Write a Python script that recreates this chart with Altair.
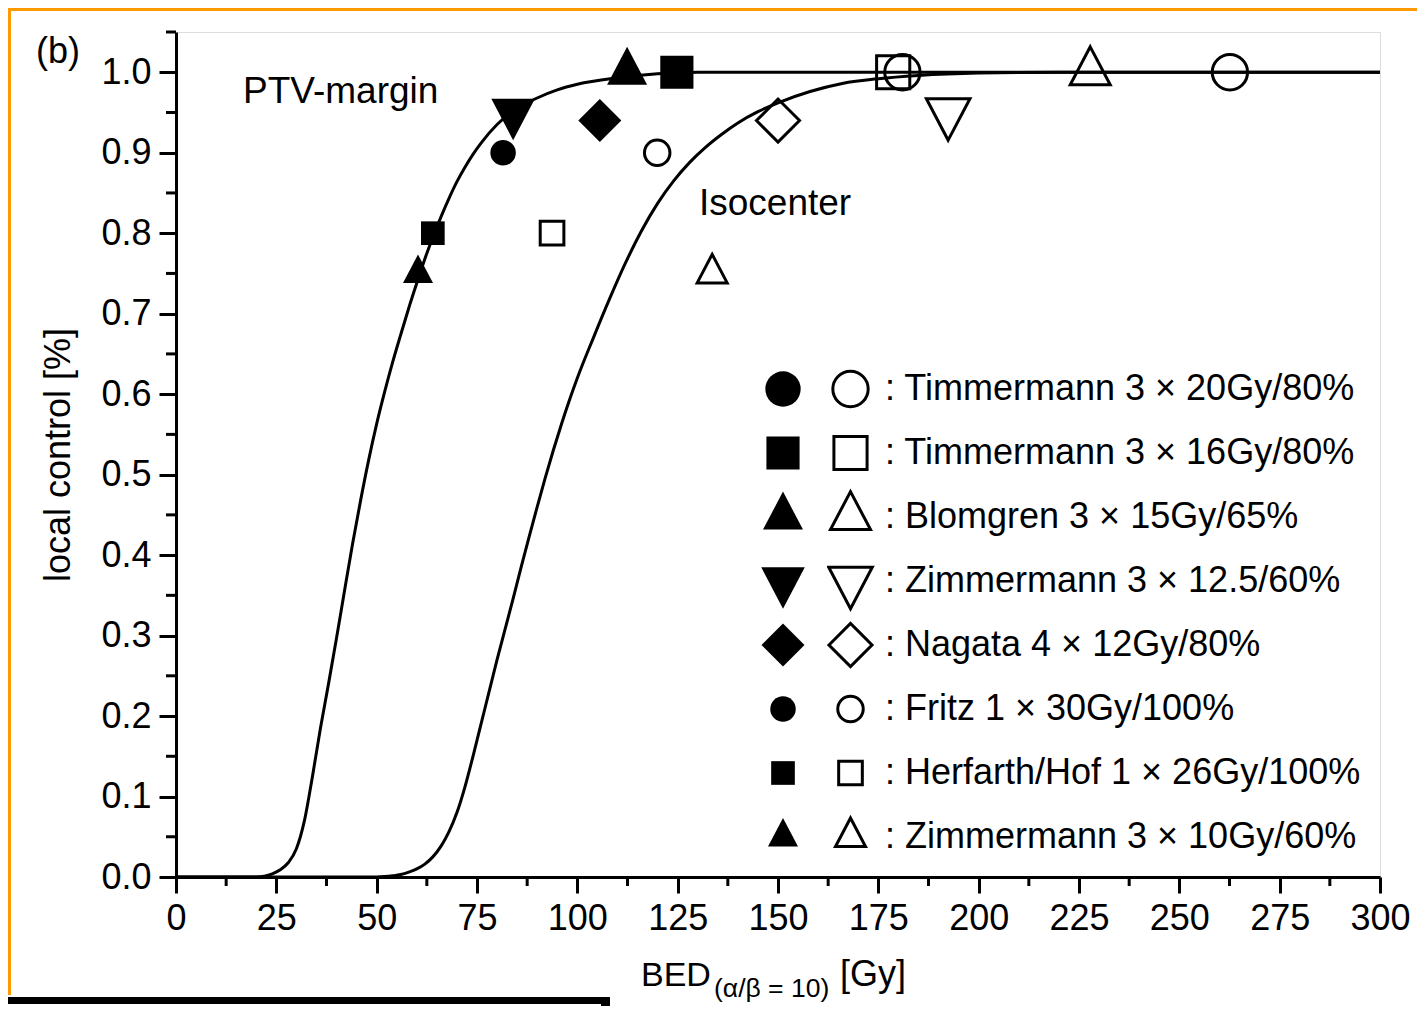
import altair as alt
import pandas as pd

FONT = "Liberation Sans"

# ---- fitted curves ----
ptv_bed = [0, 20, 22, 24, 26, 28, 30, 32, 34, 36, 38, 40, 42, 44, 46, 48, 50, 52, 54, 56, 58,
           60, 62, 64, 66, 68, 70, 72, 74, 76, 80, 85, 90, 95, 100, 110, 120, 130, 300]
ptv_lc = [0, 0, 0.001, 0.004, 0.009, 0.018, 0.035, 0.07, 0.125, 0.185, 0.24, 0.297, 0.356,
          0.414, 0.468, 0.518, 0.563, 0.603, 0.64, 0.674, 0.707, 0.738, 0.768, 0.795, 0.82,
          0.843, 0.864, 0.882, 0.898, 0.912, 0.935, 0.955, 0.968, 0.978, 0.985, 0.993, 0.998,
          1.0, 1.0]
iso_bed = [0, 50, 52, 54, 56, 58, 60, 62, 64, 66, 68, 70, 72, 74, 76, 78, 80, 82, 84, 86, 88,
           90, 92, 94, 96, 98, 100, 104, 108, 112, 116, 120, 124, 128, 132, 136, 140, 145, 150,
           158, 166, 175, 185, 200, 220, 300]
iso_lc = [0, 0, 0.0005, 0.0015, 0.003, 0.006, 0.01, 0.016, 0.025, 0.038, 0.056, 0.08, 0.112,
          0.15, 0.19, 0.23, 0.27, 0.308, 0.346, 0.385, 0.423, 0.46, 0.496, 0.53, 0.562, 0.592,
          0.62, 0.67, 0.718, 0.763, 0.803, 0.837, 0.865, 0.888, 0.907, 0.923, 0.937, 0.951,
          0.962, 0.976, 0.986, 0.992, 0.996, 0.999, 1.0, 1.0]

# ---- studies ----
studies = ["Timmermann 3 × 20Gy/80%", "Timmermann 3 × 16Gy/80%", "Blomgren 3 × 15Gy/65%",
           "Zimmermann 3 × 12.5/60%", "Nagata 4 × 12Gy/80%", "Fritz 1 × 30Gy/100%",
           "Herfarth/Hof 1 × 26Gy/100%", "Zimmermann 3 × 10Gy/60%"]

# PTV-margin (filled symbols)
pf_study = [studies[1], studies[2], studies[3], studies[4], studies[5], studies[6], studies[7]]
pf_bed = [124.8, 112.4, 84.0, 105.6, 81.5, 64.0, 60.3]
pf_lc = [1.0, 1.0, 0.95, 0.94, 0.90, 0.80, 0.75]

# Isocenter (open symbols)
po_study = [studies[0], studies[0], studies[1], studies[2], studies[3], studies[4], studies[5],
            studies[6], studies[7]]
po_bed = [181.0, 262.6, 178.7, 227.8, 192.4, 150.0, 119.9, 93.7, 133.6]
po_lc = [1.0, 1.0, 1.0, 1.0, 0.95, 0.94, 0.90, 0.80, 0.75]

# axis ticks
x_major = [0, 25, 50, 75, 100, 125, 150, 175, 200, 225, 250, 275, 300]
x_minor = [12.5, 37.5, 62.5, 87.5, 112.5, 137.5, 162.5, 187.5, 212.5, 237.5, 262.5, 287.5]
y_major = [0.0, 0.1, 0.2, 0.3, 0.4, 0.5, 0.6, 0.7, 0.8, 0.9, 1.0]
y_minor = [0.05, 0.15, 0.25, 0.35, 0.45, 0.55, 0.65, 0.75, 0.85, 0.95, 1.05]

# ---- styling ----
W, H = 1204, 845
TRI_UP = "M0,-1.27L1,0.63L-1,0.63Z"
TRI_DOWN = "M0,1.27L1,-0.63L-1,-0.63Z"
shapes = ["circle", "square", TRI_UP, TRI_DOWN, "diamond", "circle", "square", TRI_UP]
sizes = [1250, 1100, 1600, 1900, 1850, 650, 560, 900]
entries = [": " + s for s in studies]

xs = alt.Scale(domain=[0, 300], nice=False, zero=False)
ys = alt.Scale(domain=[0, 1.05], nice=False, zero=False)

X_AX = alt.Axis(values=x_major, format="d", title=None, grid=False, domainColor="black",
                domainWidth=3, tickColor="black", tickWidth=3, tickSize=16, labelFont=FONT,
                labelFontSize=36, labelColor="black", labelPadding=8, labelFlush=False,
                labelOverlap=False)
Y_AX = alt.Axis(values=y_major, format=".1f", title="local control [%]", grid=False,
                domainColor="black", domainWidth=3, tickColor="black", tickWidth=3, tickSize=17,
                labelFont=FONT, labelFontSize=36, labelColor="black", labelPadding=8,
                labelFlush=False, labelOverlap=False, titleFont=FONT, titleFontSize=36,
                titleFontWeight="normal", titleColor="black", titlePadding=23)

X = alt.X("bed:Q", scale=xs, axis=X_AX)
Y = alt.Y("lc:Q", scale=ys, axis=Y_AX)

curve_df = pd.DataFrame({
    "curve": ["PTV-margin"] * len(ptv_bed) + ["Isocenter"] * len(iso_bed),
    "bed": ptv_bed + iso_bed,
    "lc": ptv_lc + iso_lc,
})
filled_df = pd.DataFrame({"study": pf_study, "bed": pf_bed, "lc": pf_lc})
open_df = pd.DataFrame({"entry": [": " + s for s in po_study], "bed": po_bed, "lc": po_lc})

curves = alt.Chart(curve_df).mark_line(color="black", strokeWidth=3, interpolate="monotone").encode(
    x=X, y=Y, detail="curve:N")

leg_common = dict(orient="none", title=None, padding=0, clipHeight=64, rowPadding=0,
                  labelFont=FONT, labelFontSize=36, labelColor="black", labelLimit=800,
                  legendY=325)
filled_leg = alt.Legend(legendX=585, labelExpr="''", labelOffset=0, symbolFillColor="black",
                        symbolStrokeColor="black", symbolStrokeWidth=0, **leg_common)
open_leg = alt.Legend(legendX=651, labelOffset=11, symbolFillColor="transparent",
                      symbolStrokeColor="black", symbolStrokeWidth=3, **leg_common)

filled = alt.Chart(filled_df).mark_point(filled=True, color="black", opacity=1).encode(
    x=X, y=Y,
    shape=alt.Shape("study:N", scale=alt.Scale(domain=studies, range=shapes), legend=filled_leg),
    size=alt.Size("study:N", scale=alt.Scale(type="ordinal", domain=studies, range=sizes),
                  legend=filled_leg),
)
opened = alt.Chart(open_df).mark_point(filled=False, color="black", opacity=1, strokeWidth=3).encode(
    x=X, y=Y,
    shape=alt.Shape("entry:N", scale=alt.Scale(domain=entries, range=shapes), legend=open_leg),
    size=alt.Size("entry:N", scale=alt.Scale(type="ordinal", domain=entries, range=sizes),
                  legend=open_leg),
)

xminor = alt.Chart(pd.DataFrame({"bed": x_minor})).mark_rule(color="black", strokeWidth=3).encode(
    x=X, y=alt.value(H), y2=alt.value(H + 9))
yminor = alt.Chart(pd.DataFrame({"lc": y_minor})).mark_rule(color="black", strokeWidth=3).encode(
    y=Y, x=alt.value(-10), x2=alt.value(0))

one = pd.DataFrame({"k": [0]})


def label(txt, x, y, size, align="left"):
    return alt.Chart(one).mark_text(text=txt, font=FONT, fontSize=size, color="black",
                                    align=align, baseline="alphabetic").encode(
        x=alt.value(x), y=alt.value(y))


texts = [
    label("(b)", -140, 31, 36),
    label("PTV-margin", 67, 71, 37),
    label("Isocenter", 523, 183, 37),
    label("BED", 465, 954, 34),
    label("(α/β = 10)", 538, 965, 26.5),
    label("[Gy]", 664, 954, 36),
]


def rule(x, x2, y, y2, color, width):
    return alt.Chart(one).mark_rule(color=color, strokeWidth=width).encode(
        x=alt.value(x), x2=alt.value(x2), y=alt.value(y), y2=alt.value(y2))


decor = [
    rule(-168, W + 37, -22.5, -22.5, "#FF9900", 3),
    rule(-166.5, -166.5, -24, 963, "#FF9900", 3),
    rule(-168, 434, 968.5, 968.5, "black", 7),
    rule(429.5, 429.5, 965, 978, "black", 9),
]

chart = alt.layer(curves, xminor, yminor, filled, opened, *texts, *decor).resolve_scale(
    shape="independent", size="independent"
).resolve_legend(
    shape="independent", size="independent"
).properties(
    width=W, height=H,
    autosize=alt.AutoSizeParams(type="none"),
    padding={"left": 168, "top": 24, "right": 37, "bottom": 129},
    background="white",
).configure_view(stroke=None).configure(font=FONT)

chart.save("out.html", embed_options={"renderer": "svg", "actions": False})
